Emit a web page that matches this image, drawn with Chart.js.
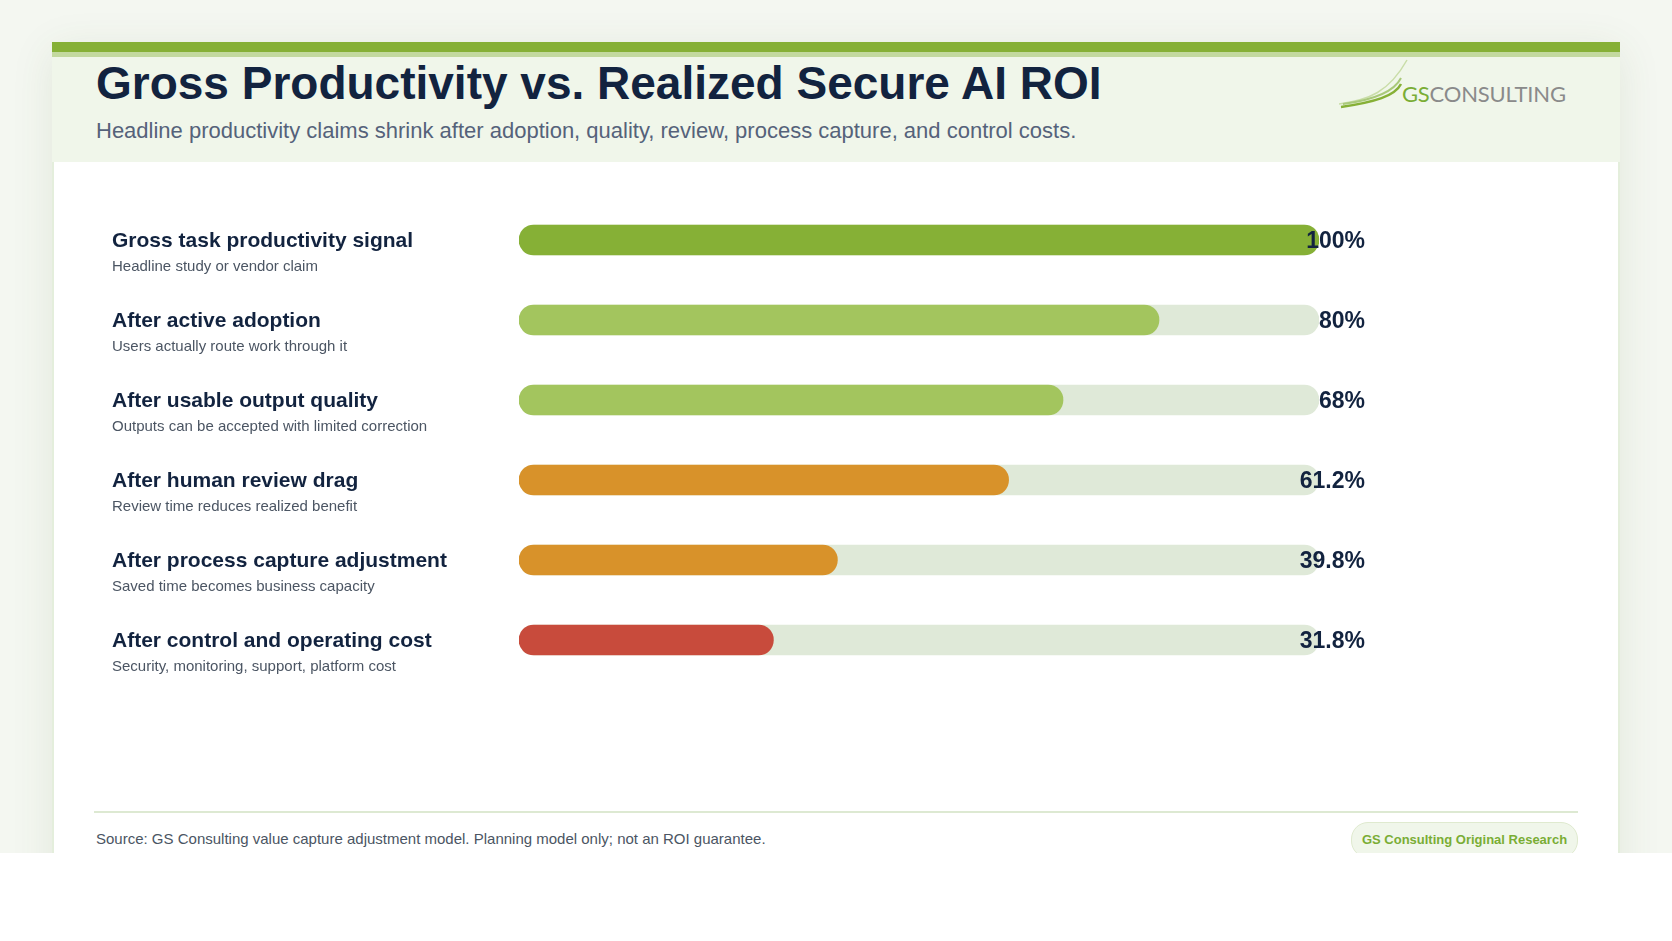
<!DOCTYPE html>
<html>
<head>
<meta charset="utf-8">
<script src="https://cdn.jsdelivr.net/npm/chart.js@4.4.1/dist/chart.umd.min.js"></script>
<style>
  body { margin: 0; background: #fff; font-family: 'Liberation Sans', Arial, sans-serif; }
  .page { position: relative; width: 1672px; height: 853px; overflow: hidden; background: #f4f7f1; }
  .card { position: absolute; left: 52px; top: 42px; width: 1568px; height: 900px; background: #fff;
          box-sizing: border-box; border-left: 2px solid #e4eedc; border-right: 2px solid #e4eedc;
          box-shadow: 0 8px 40px rgba(70, 100, 40, 0.10); }
  .inner { position: absolute; left: -2px; top: 0; width: 1568px; height: 900px; }
  .stripe { position: absolute; left: 0; top: 0; width: 100%; height: 10px; background: #86b036; }
  .stripe2 { position: absolute; left: 0; top: 10px; width: 100%; height: 5px; background: #c3d99f; }
  .head { position: absolute; left: 0; top: 15px; width: 100%; height: 105px; background: #f0f6ea; }
  .title { position: absolute; left: 44px; top: 18px; font-size: 46px; line-height: 1; font-weight: 700; color: #12233f; white-space: nowrap; }
  .sub { position: absolute; left: 44px; top: 78px; font-size: 22px; line-height: 1; color: #55627a; white-space: nowrap; }
  .logo { position: absolute; left: 1287px; top: 14px; width: 240px; height: 70px; }
  .logo-text { position: absolute; left: 1350px; top: 41px; font-family: Lato, sans-serif; font-size: 22px; line-height: 1; letter-spacing: -0.2px; color: #8a8a8a; white-space: nowrap; }
  .logo-text b { color: #7aad35; font-weight: 400; }
  #wrap { position: absolute; left: 0; top: 120px; width: 1568px; height: 558px; }
  .rule { position: absolute; left: 42px; top: 769px; width: 1484px; height: 2px; background: #dde9d2; }
  .source { position: absolute; left: 44px; top: 789px; font-size: 15px; line-height: 1; color: #4b5563; white-space: nowrap; }
  .badge { position: absolute; left: 1299px; top: 780px; width: 225px; height: 34px; border-radius: 17px;
           background: #f0f6ea; border: 1px solid #dfeacf; color: #7aad35; font-weight: 700; font-size: 13px;
           line-height: 34px; text-align: center; white-space: nowrap; }
</style>
</head>
<body>
<div class="page">
  <div class="card"><div class="inner">
    <div class="stripe"></div>
    <div class="stripe2"></div>
    <div class="head"></div>
    <div class="title">Gross Productivity vs. Realized Secure AI ROI</div>
    <div class="sub">Headline productivity claims shrink after adoption, quality, review, process capture, and control costs.</div>
    <svg class="logo" viewBox="0 0 240 70">
      <path d="M0 48 C 30 44, 50 36, 68 4" fill="none" stroke="#c9dda8" stroke-width="1.5"/>
      <path d="M4 48 C 34 44, 55 36, 62 22" fill="none" stroke="#a9c97a" stroke-width="2"/>
      <path d="M2 51 C 36 46, 56 40, 62 28" fill="none" stroke="#86b036" stroke-width="2.5"/>
    </svg>
    <div class="logo-text"><b>GS</b>CONSULTING</div>
    <div id="wrap"><canvas id="chart"></canvas></div>
    <div class="rule"></div>
    <div class="source">Source: GS Consulting value capture adjustment model. Planning model only; not an ROI guarantee.</div>
    <div class="badge">GS Consulting Original Research</div>
  </div></div>
</div>
<script>
const stages = [
  'Gross task productivity signal',
  'After active adoption',
  'After usable output quality',
  'After human review drag',
  'After process capture adjustment',
  'After control and operating cost'
];
const notes = [
  'Headline study or vendor claim',
  'Users actually route work through it',
  'Outputs can be accepted with limited correction',
  'Review time reduces realized benefit',
  'Saved time becomes business capacity',
  'Security, monitoring, support, platform cost'
];
const realized = [100, 80, 68, 61.2, 39.8, 31.8];
const track = [100, 100, 100, 100, 100, 100];
const barColors = ['#86b036', '#a3c55e', '#a3c55e', '#d8922a', '#d8922a', '#c84b3c'];

// Rótulos à esquerda e valores à direita
const labelPlugin = {
  id: 'labels',
  afterDatasetsDraw(chart) {
    const ctx = chart.ctx;
    const y = chart.scales.y;
    const right = chart.chartArea.right;
    ctx.save();
    stages.forEach((s, i) => {
      const cy = y.getPixelForValue(i);
      ctx.textAlign = 'left';
      ctx.textBaseline = 'middle';
      ctx.fillStyle = '#12233f';
      ctx.font = "bold 21px 'Liberation Sans', Arial, sans-serif";
      ctx.fillText(s, 60, cy + 1);
      ctx.fillStyle = '#4b5563';
      ctx.font = "15px 'Liberation Sans', Arial, sans-serif";
      ctx.fillText(notes[i], 60, cy + 27);
      ctx.textAlign = 'right';
      ctx.fillStyle = '#12233f';
      ctx.font = "bold 23px 'Liberation Sans', Arial, sans-serif";
      ctx.fillText(realized[i] + '%', right + 46, cy + 2);
    });
    ctx.restore();
  }
};

new Chart(document.getElementById('chart'), {
  type: 'bar',
  data: {
    labels: stages,
    datasets: [
      {
        data: realized,
        backgroundColor: barColors,
        borderRadius: 15,
        borderSkipped: false,
        barThickness: 30,
        grouped: false,
        order: 1
      },
      {
        data: track,
        backgroundColor: '#dfe9d8',
        borderRadius: 15,
        borderSkipped: false,
        barThickness: 30,
        grouped: false,
        order: 2
      }
    ]
  },
  options: {
    indexAxis: 'y',
    responsive: true,
    maintainAspectRatio: false,
    animation: false,
    layout: { padding: { left: 467, right: 301, top: 38, bottom: 40 } },
    plugins: { legend: { display: false }, tooltip: { enabled: false } },
    scales: {
      x: { min: 0, max: 100, display: false },
      y: { display: false }
    }
  },
  plugins: [labelPlugin]
});
</script>
</body>
</html>
